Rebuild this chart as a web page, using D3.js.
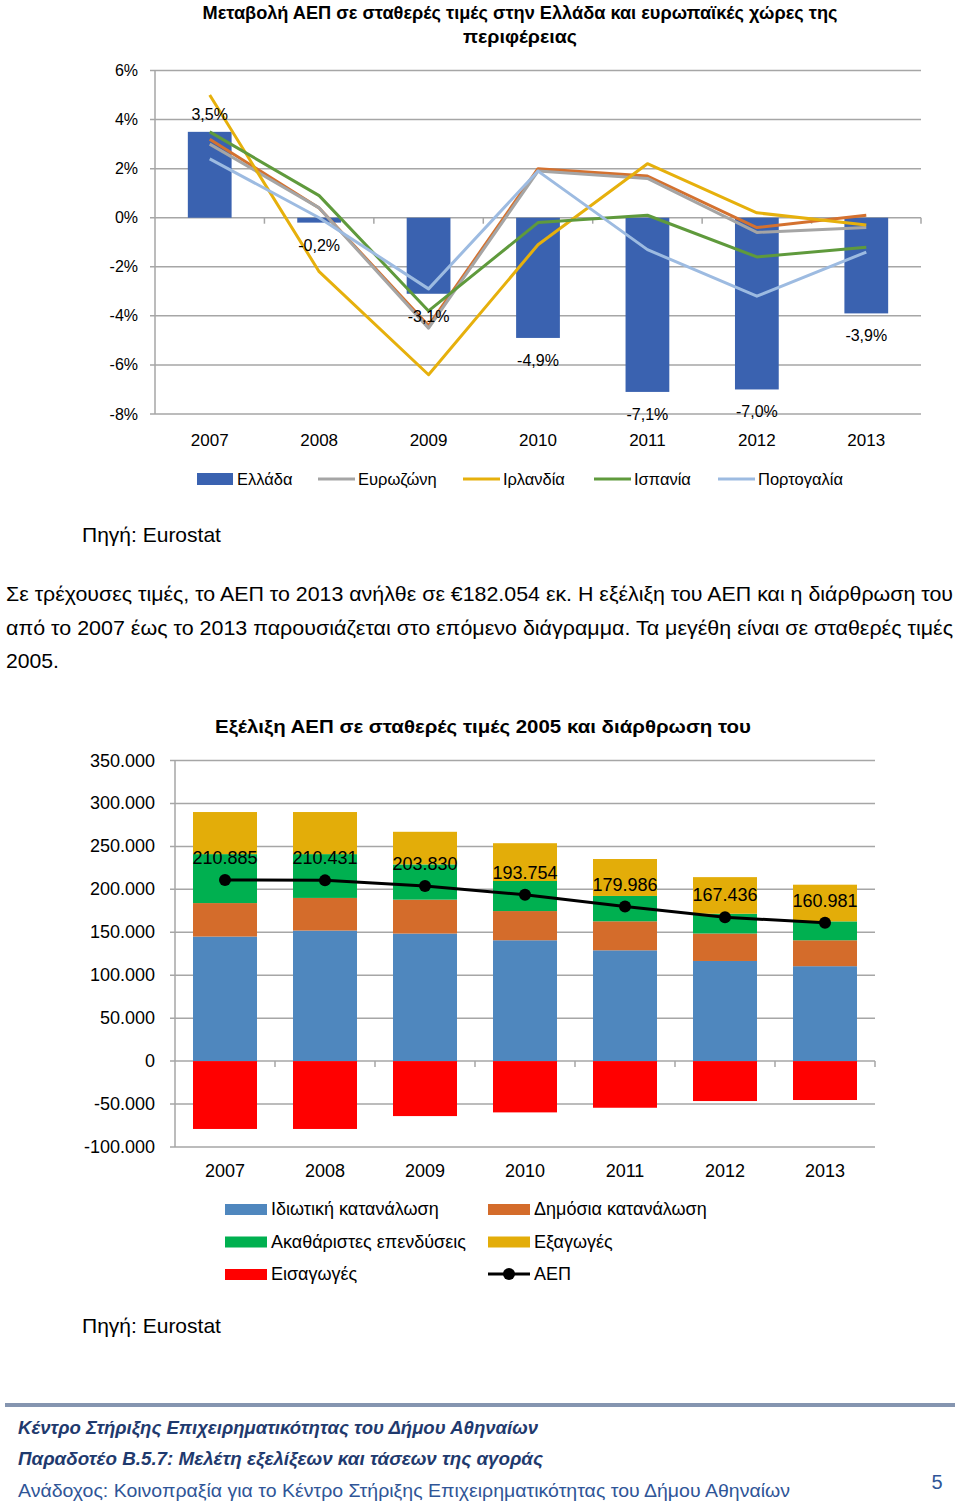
<!DOCTYPE html>
<html><head><meta charset="utf-8">
<script src="https://cdn.jsdelivr.net/npm/d3@7"></script>
<style>
body{margin:0;background:#fff;}
svg{display:block;font-family:"Liberation Sans",Arial,sans-serif;}
</style></head>
<body>
<svg id="c" width="960" height="1507"></svg>
<script>
// ---------- DATA ----------
const years = ["2007","2008","2009","2010","2011","2012","2013"];
// Chart 1: real GDP change (%)
const greece   = [3.5, -0.2, -3.1, -4.9, -7.1, -7.0, -3.9];
const eurozone = [3.0, 0.4, -4.5, 1.9, 1.6, -0.6, -0.4];
const eu27     = [3.2, 0.4, -4.4, 2.0, 1.7, -0.4, 0.1];
const ireland  = [5.0, -2.2, -6.4, -1.1, 2.2, 0.2, -0.3];
const spain    = [3.5, 0.9, -3.8, -0.2, 0.1, -1.6, -1.2];
const portugal = [2.4, 0.0, -2.9, 1.9, -1.3, -3.2, -1.4];
const pctTicks = [-8, -6, -4, -2, 0, 2, 4, 6];

// Chart 2: GDP at constant 2005 prices and its structure (million €)
const privCons = [145000, 152000, 148500, 140700, 129000, 116600, 110500];
const pubCons  = [39000, 38000, 39500, 34000, 33800, 32000, 30200];
const gfcf     = [57000, 51000, 41000, 35000, 29500, 23000, 22000];
const exportsV = [49000, 49000, 38000, 44000, 43000, 42600, 42700];
const importsV = [-79000, -79000, -64000, -59700, -54300, -46500, -45300];
const gdp      = [210885, 210431, 203830, 193754, 179986, 167436, 160981];
const valTicks = [-100000, -50000, 0, 50000, 100000, 150000, 200000, 250000, 300000, 350000];

// ---------- SETUP ----------
const svg = d3.select("#c");
const grid = "#a6a6a6";
const loc = d3.formatLocale({decimal: ",", thousands: ".", grouping: [3], currency: ["€",""], minus: "-"});
const fmtThousands = loc.format(",");
const fmtPct1 = loc.format(".1f");

function txt(x, y, s, o = {}) {
  const t = svg.append("text").attr("x", x).attr("y", y).text(s)
    .attr("font-size", o.size || 16).attr("fill", o.fill || "#000")
    .attr("text-anchor", o.anchor || "start");
  if (o.weight) t.attr("font-weight", o.weight);
  if (o.style) t.attr("font-style", o.style);
  if (o.len) t.attr("textLength", o.len).attr("lengthAdjust", o.adj || "spacingAndGlyphs");
  return t;
}

// ---------- CHART 1 ----------
txt(520, 19, "Μεταβολή ΑΕΠ σε σταθερές τιμές στην Ελλάδα και ευρωπαϊκές χώρες της", {size: 19, weight: "bold", anchor: "middle", len: 635});
txt(520, 43, "περιφέρειας", {size: 19, weight: "bold", anchor: "middle", len: 114});

const x1 = d3.scaleBand().domain(years).range([155, 921]).paddingInner(0.6).paddingOuter(0.3);
const y1 = d3.scaleLinear().domain([-8, 6]).range([414, 70.5]);
const c1 = d => x1(d) + x1.bandwidth() / 2;

const g1 = svg.append("g");
g1.selectAll("line.grid").data(pctTicks).join("line")
  .attr("x1", 150).attr("x2", 921).attr("y1", d => y1(d)).attr("y2", d => y1(d))
  .attr("stroke", grid).attr("stroke-width", 1.5);
g1.append("line").attr("x1", 155).attr("x2", 155).attr("y1", y1(6)).attr("y2", y1(-8)).attr("stroke", grid).attr("stroke-width", 1.5);
g1.selectAll("text.yl").data(pctTicks).join("text")
  .attr("x", 138).attr("y", d => y1(d) + 5.5).attr("text-anchor", "end").attr("font-size", 16)
  .text(d => d + "%");
const bounds1 = years.map(d => x1(d) - x1.step() * x1.paddingInner() / 2).concat([921]);
g1.selectAll("line.xt").data(bounds1.slice(1)).join("line")
  .attr("x1", d => d).attr("x2", d => d).attr("y1", y1(0)).attr("y2", y1(0) + 6)
  .attr("stroke", grid).attr("stroke-width", 1.5);
g1.selectAll("text.xl").data(years).join("text")
  .attr("x", c1).attr("y", 446).attr("text-anchor", "middle").attr("font-size", 17).text(d => d);
g1.selectAll("rect.gr").data(greece).join("rect")
  .attr("x", (d, i) => x1(years[i])).attr("width", x1.bandwidth())
  .attr("y", d => y1(Math.max(0, d))).attr("height", d => Math.abs(y1(d) - y1(0)))
  .attr("fill", "#3a62b0");
const lineSeries = [
  {name: "ΕΕ-27", vals: eu27, color: "#d4712f", legend: false},
  {name: "Ευρωζώνη", vals: eurozone, color: "#a5a5a5", legend: true},
  {name: "Ιρλανδία", vals: ireland, color: "#e6b00c", legend: true},
  {name: "Ισπανία", vals: spain, color: "#5f9a3c", legend: true},
  {name: "Πορτογαλία", vals: portugal, color: "#9dbbe1", legend: true}
];
const ln1 = d3.line().x((d, i) => c1(years[i])).y(d => y1(d));
g1.selectAll("path.ln").data(lineSeries).join("path")
  .attr("d", d => ln1(d.vals)).attr("fill", "none").attr("stroke", d => d.color).attr("stroke-width", 3)
  .attr("stroke-linejoin", "round");
g1.selectAll("text.gl").data(greece).join("text")
  .attr("x", (d, i) => c1(years[i])).attr("y", d => d >= 0 ? y1(d) - 12 : y1(d) + 28)
  .attr("text-anchor", "middle").attr("font-size", 16).text(d => fmtPct1(d) + "%");
const leg1 = [{name: "Ελλάδα", color: "#3a62b0", rect: true, x: 197}]
  .concat(lineSeries.filter(s => s.legend).map((s, i) => ({name: s.name, color: s.color, rect: false, x: [318, 463, 594, 718][i]})));
leg1.forEach(l => {
  if (l.rect) svg.append("rect").attr("x", l.x).attr("y", 473).attr("width", 36).attr("height", 12).attr("fill", l.color);
  else svg.append("line").attr("x1", l.x).attr("x2", l.x + 37).attr("y1", 479).attr("y2", 479).attr("stroke", l.color).attr("stroke-width", 3);
  txt(l.x + 40, 485, l.name, {size: 16.5});
});

txt(82, 542, "Πηγή: Eurostat", {size: 21});

txt(6, 601, "Σε τρέχουσες τιμές, το ΑΕΠ το 2013 ανήλθε σε €182.054 εκ. Η εξέλιξη του ΑΕΠ και η διάρθρωση του", {size: 21, len: 947});
txt(6, 635, "από το 2007 έως το 2013 παρουσιάζεται στο επόμενο διάγραμμα. Τα μεγέθη είναι σε σταθερές τιμές", {size: 21, len: 947});
txt(6, 668, "2005.", {size: 21, len: 53});

// ---------- CHART 2 ----------
txt(483, 733, "Εξέλιξη ΑΕΠ σε σταθερές τιμές 2005 και διάρθρωση του", {size: 19, weight: "bold", anchor: "middle", len: 536});

const x2 = d3.scaleBand().domain(years).range([175, 875]).paddingInner(0.36).paddingOuter(0.18);
const y2 = d3.scaleLinear().domain([-100000, 350000]).range([1147, 760.5]);
const c2 = d => x2(d) + x2.bandwidth() / 2;
const g2 = svg.append("g");

g2.selectAll("line.grid").data(valTicks).join("line")
  .attr("x1", 170).attr("x2", 875).attr("y1", d => y2(d)).attr("y2", d => y2(d))
  .attr("stroke", grid).attr("stroke-width", 1.5);
g2.append("line").attr("x1", 175).attr("x2", 175).attr("y1", y2(350000)).attr("y2", y2(-100000)).attr("stroke", grid).attr("stroke-width", 1.5);
g2.selectAll("text.yl").data(valTicks).join("text")
  .attr("x", 155).attr("y", d => y2(d) + 6).attr("text-anchor", "end").attr("font-size", 18)
  .text(d => fmtThousands(d));
const bounds2 = years.map(d => x2(d) - x2.step() * x2.paddingInner() / 2).concat([875]);
g2.selectAll("line.xt").data(bounds2.slice(1)).join("line")
  .attr("x1", d => d).attr("x2", d => d).attr("y1", y2(0)).attr("y2", y2(0) + 6)
  .attr("stroke", grid).attr("stroke-width", 1.5);
g2.selectAll("text.xl").data(years).join("text")
  .attr("x", c2).attr("y", 1177).attr("text-anchor", "middle").attr("font-size", 18).text(d => d);

const comps = [
  {key: "priv", name: "Ιδιωτική κατανάλωση", vals: privCons, color: "#4f87be"},
  {key: "pub", name: "Δημόσια κατανάλωση", vals: pubCons, color: "#d46c2b"},
  {key: "gfcf", name: "Ακαθάριστες επενδύσεις", vals: gfcf, color: "#00b050"},
  {key: "exp", name: "Εξαγωγές", vals: exportsV, color: "#e3ad09"},
  {key: "imp", name: "Εισαγωγές", vals: importsV, color: "#ff0000"}
];
const table = years.map((yr, i) => {
  const o = {year: yr};
  comps.forEach(c => o[c.key] = c.vals[i]);
  return o;
});
const stack = d3.stack().keys(comps.map(c => c.key)).offset(d3.stackOffsetDiverging);
const layers = stack(table);
g2.selectAll("g.layer").data(layers).join("g")
  .attr("fill", (d, i) => comps[i].color)
  .selectAll("rect").data(d => d).join("rect")
  .attr("x", d => x2(d.data.year)).attr("width", x2.bandwidth())
  .attr("y", d => y2(Math.max(d[0], d[1]))).attr("height", d => Math.abs(y2(d[0]) - y2(d[1])));

const ln2 = d3.line().x((d, i) => c2(years[i])).y(d => y2(d));
g2.append("path").attr("d", ln2(gdp)).attr("fill", "none").attr("stroke", "#000").attr("stroke-width", 3);
g2.selectAll("circle.gdp").data(gdp).join("circle")
  .attr("cx", (d, i) => c2(years[i])).attr("cy", d => y2(d)).attr("r", 6).attr("fill", "#000");
g2.selectAll("text.gdpl").data(gdp).join("text")
  .attr("x", (d, i) => c2(years[i])).attr("y", d => y2(d) - 16)
  .attr("text-anchor", "middle").attr("font-size", 18).text(d => fmtThousands(d));

const leg2 = comps.map(c => ({name: c.name, color: c.color, type: "rect"}))
  .concat([{name: "ΑΕΠ", color: "#000", type: "line"}]);
leg2.forEach((l, i) => {
  const col = i % 2, row = Math.floor(i / 2);
  const lx = col === 0 ? 225 : 488, ly = 1209 + row * 32.5;
  if (l.type === "rect") svg.append("rect").attr("x", lx).attr("y", ly - 5).attr("width", 42).attr("height", 11).attr("fill", l.color);
  else {
    svg.append("line").attr("x1", lx).attr("x2", lx + 42).attr("y1", ly).attr("y2", ly).attr("stroke", "#000").attr("stroke-width", 3);
    svg.append("circle").attr("cx", lx + 21).attr("cy", ly).attr("r", 6).attr("fill", "#000");
  }
  txt(lx + 46, ly + 6, l.name, {size: 18});
});

txt(82, 1333, "Πηγή: Eurostat", {size: 21});

// ---------- FOOTER ----------
svg.append("rect").attr("x", 5).attr("y", 1403).attr("width", 950).attr("height", 4).attr("fill", "#8595b0");
txt(18, 1434, "Κέντρο Στήριξης Επιχειρηματικότητας του Δήμου Αθηναίων", {size: 19, weight: "bold", style: "italic", fill: "#1f3a6e", len: 520});
txt(18, 1465, "Παραδοτέο Β.5.7: Μελέτη εξελίξεων και τάσεων της αγοράς", {size: 19, weight: "bold", style: "italic", fill: "#1f3a6e", len: 525});
txt(18, 1497, "Ανάδοχος: Κοινοπραξία για το Κέντρο Στήριξης Επιχειρηματικότητας του Δήμου Αθηναίων", {size: 19, fill: "#2f5597", len: 772});
txt(937, 1489, "5", {size: 20, fill: "#2f5597", anchor: "middle"});
</script>
</body></html>
